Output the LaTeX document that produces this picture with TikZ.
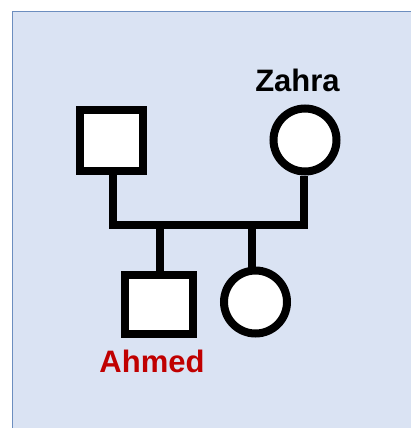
\documentclass[tikz,border=0pt]{standalone}
\usepackage{fontspec}
\setmainfont{Liberation Sans}
\definecolor{panelfill}{HTML}{DAE3F3}
\definecolor{panelline}{HTML}{6C8EBF}
\definecolor{namered}{HTML}{C00000}
\begin{document}
\begin{tikzpicture}[x=1pt,y=-1pt,
  member/.style={draw=black,line width=8pt,fill=white,inner sep=0pt},
  male/.style={member,rectangle},
  female/.style={member,circle},
  link/.style={draw=black,line width=8pt,line join=miter},
  label/.style={font=\fontsize{31}{31}\selectfont\bfseries,inner sep=0pt,anchor=base}]
\useasboundingbox (0,0) rectangle (411,428);
\clip (0,0) rectangle (411,428);
% panel
\draw[panelline,fill=panelfill,line width=1.5pt] (12.5,11.5) rectangle (440,460);
% parents
\node[male,minimum width=63pt,minimum height=61pt] (father) at (111.5,140.5) {};
\node[female,minimum size=63pt] (zahra) at (305,140) {};
% children
\node[male,minimum width=68pt,minimum height=59pt] (ahmed) at (159,304.5) {};
\node[female,minimum size=63pt] (daughter) at (255.5,302) {};
% marriage line
\coordinate (mleft) at (112.5,225);
\coordinate (mright) at (304,225);
\coordinate (c1) at (159.5,225);
\coordinate (c2) at (252,225);
\draw[link] (father.south -| mleft) -- (mleft) -- (mright) -- (zahra.south -| mright);
\draw[link] (c1) -- (ahmed.north -| c1);
\draw[link] (c2) -- (daughter.north -| c2);
% names
\node[label,text=black] (zname) at (297.5,91) {Zahra};
\node[label,text=namered] (aname) at (152,372) {Ahmed};
\end{tikzpicture}
\end{document}
